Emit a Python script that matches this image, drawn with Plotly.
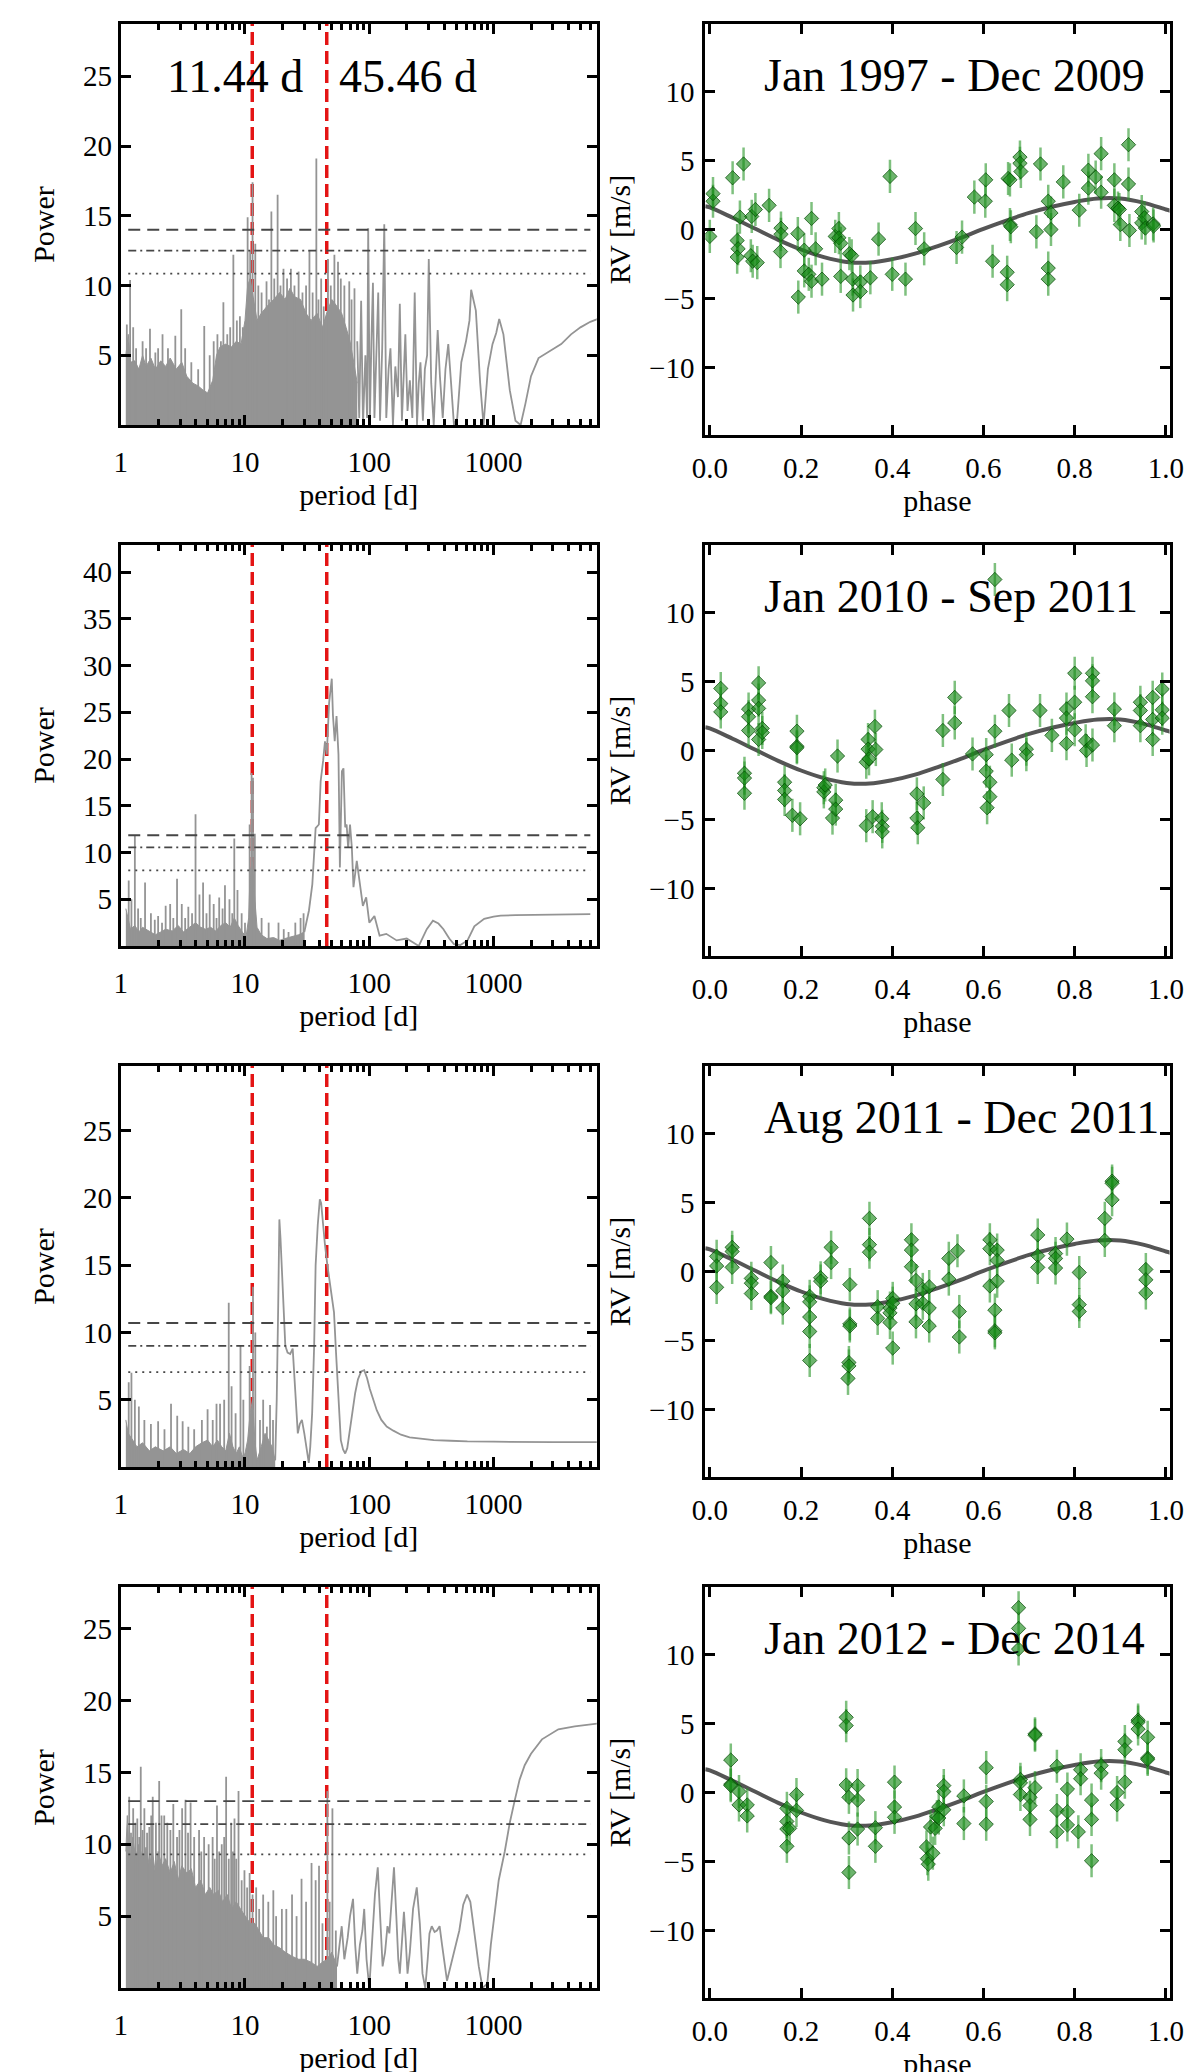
import plotly.graph_objects as go

# ---------------- values ----------------

signal_periods = [11.44, 45.46]
signal_labels = ["11.44 d", "45.46 d"]
fap_period = [1.15, 6000]

period_ticks = [1, 10, 100, 1000]
period_minor = [m * 10 ** k for k in range(4) for m in range(2, 10)]
phase_ticks = [0.0, 0.2, 0.4, 0.6, 0.8, 1.0]
rv_ticks = [-10, -5, 0, 5, 10]

titles = ["Jan 1997 - Dec 2009", "Jan 2010 - Sep 2011",
          "Aug 2011 - Dec 2011", "Jan 2012 - Dec 2014"]

# false-alarm levels (dashed, dash-dot, dotted)
fap1 = [14.0, 12.5, 10.85]
fap2 = [11.85, 10.55, 8.1]
fap3 = [10.7, 9.0, 7.05]
fap4 = [13.0, 11.4, 9.3]

# --- periodogram 1 (Jan 1997 - Dec 2009)
pg1_fill_period = [1.10, 1.15, 1.2, 1.3, 1.4, 1.5, 1.6, 1.75, 1.9, 2.1, 2.3, 2.5, 2.8, 3.1, 3.4,
                   3.8, 4.2, 4.6, 5.0, 5.5, 5.9, 6.3, 7.0, 7.8, 8.5, 9.3, 10.0, 10.5, 11.0, 11.7,
                   12.5, 13.5, 15, 17, 19, 21, 23, 25, 28, 31, 34, 38, 42, 46, 50, 55, 60, 65, 70,
                   75, 80]
pg1_fill_power = [5.0, 6.5, 4.5, 4.6, 4.0, 5.0, 4.2, 4.8, 4.0, 4.6, 4.2, 4.8, 4.0, 4.5, 3.5,
                  3.0, 2.8, 2.5, 2.3, 3.2, 5.0, 5.6, 5.8, 5.6, 6.0, 5.8, 7.5, 10.0, 10.5, 9.0,
                  7.5, 8.0, 8.5, 9.0, 9.5, 9.0, 9.8, 9.2, 9.0, 8.0, 7.5, 8.0, 7.0, 8.2, 9.0, 8.5,
                  8.0, 7.0, 6.0, 4.5, 3.0]
pg1_spike_period = [1.12, 1.19, 1.26, 1.33, 1.5, 1.6, 1.72, 1.9, 2.0, 2.17, 2.4, 2.75, 3.07, 3.3,
                    3.7, 4.2, 4.7, 5.2, 5.6, 6.0, 6.4, 6.7, 7.2, 7.6, 8.06, 8.6, 9.1, 9.6, 10.5,
                    11.0, 11.5, 12.1, 12.8, 13.6, 14.9, 15.6, 16.3, 17.2, 18.3, 19.3, 20.4, 21.8,
                    23.4, 25, 27, 29, 31, 33, 35, 37.5, 39, 41, 43, 46.5, 49, 52.4, 56, 59, 63,
                    69, 72, 76]
pg1_spike_power = [7.2, 10.4, 7.0, 5.5, 6.0, 5.5, 6.9, 5.2, 5.5, 6.5, 5.5, 6.4, 8.3, 5.5,
                   4.5, 4.0, 7.1, 5.0, 6.0, 6.5, 6.0, 8.8, 6.5, 7.0, 12.2, 7.5, 7.8, 7.0, 14.9,
                   12.5, 17.4, 13.0, 10.0, 9.5, 10.3, 9.0, 15.3, 10.5, 16.5, 10.0, 11.2, 10.5,
                   11.2, 10.0, 11.0, 9.5, 10.0, 12.5, 9.5, 19.1, 9.0, 10.5, 8.5, 11.9, 10.0, 12.2,
                   11.7, 10.5, 10.0, 10.3, 9.0, 9.8]
pg1_line_period = [80, 83, 86, 89, 93, 96, 98, 101, 104, 107, 110, 114, 118, 122, 127, 132, 137,
                   143, 148, 155, 162, 170, 176, 183, 190, 195, 203, 212, 222, 232, 242, 250, 258,
                   270, 280, 292, 301, 315, 330, 345, 355, 370, 390, 410, 432, 455, 480, 510, 550,
                   600, 640, 660, 700, 720, 780, 830, 900, 980, 1050, 1110, 1200, 1350, 1500,
                   1650, 1800, 2000, 2300, 2600, 3000, 3500, 4200, 5000, 6000, 6900]
pg1_line_power = [6, 0.5, 8.9, 0, 5, 0.5, 14.1, 0, 6, 10.2, 0.5, 5, 9.5, 0.3, 5.5, 14.4, 0.5,
                  4, 5.5, 0, 4.2, 2, 8.7, 0.3, 3.5, 6.5, 1, 3.2, 0.5, 9.5, 0, 3, 4.5,
                  0.3, 4, 5, 11.9, 3, 0, 4.5, 6.8, 3.5, 0.5, 4, 5.8, 3, 0, 0.5, 4.5,
                  6, 7.5, 9.7, 8.5, 8.2, 3, 0, 4, 5.8, 6.6, 7.6, 6.5, 2.5, 0.3,
                  0, 1.5, 3.5, 4.8, 5.1, 5.4, 5.8, 6.5, 7.0, 7.4, 7.6]

# --- periodogram 2 (Jan 2010 - Sep 2011)
pg2_fill_period = [1.10, 1.15, 1.2, 1.3, 1.4, 1.5, 1.7, 1.9, 2.1, 2.3, 2.6, 2.9, 3.2, 3.6, 4.0,
                   4.4, 4.8, 5.3, 5.8, 6.4, 7.0, 7.6, 8.2, 8.8, 9.5, 10.2, 10.7, 11.0, 11.5, 12.0,
                   12.5, 13.5, 15, 17, 19, 21, 24, 27, 30]
pg2_fill_power = [4.0, 3.0, 1.8, 2.2, 1.5, 2.0, 1.6, 1.2, 1.5, 1.8, 1.6, 2.2, 1.5, 2.0, 2.5,
                  2.0, 1.8, 2.0, 1.6, 2.2, 2.5, 2.0, 3.0, 2.2, 1.5, 1.0, 3.0, 8.0, 9.0, 5.0,
                  2.0, 1.2, 0.8, 0.9, 0.6, 0.8, 1.0, 1.2, 1.5]
pg2_spike_period = [1.16, 1.22, 1.30, 1.38, 1.45, 1.57, 1.75, 1.88, 2.0, 2.15, 2.3, 2.5, 2.65,
                    2.84, 3.1, 3.3, 3.5, 3.75, 4.0, 4.3, 4.6, 4.9, 5.2, 5.6, 5.9, 6.2, 6.6, 6.9,
                    7.5, 7.9, 8.2, 8.7, 9.4, 10.0, 10.9, 11.3, 11.6, 12.0, 13.6, 15.5, 18.6,
                    20.5, 22.4, 25.4, 28, 29.6]
pg2_spike_power = [7.0, 5.0, 11.8, 4.0, 3.0, 6.8, 3.5, 2.8, 3.2, 2.5, 4.3, 4.5, 3.0,
                   7.2, 4.5, 3.0, 4.2, 3.5, 14.1, 5.5, 6.8, 3.5, 5.5, 4.5, 3.0, 5.2, 4.0, 6.5,
                   5.0, 3.5, 11.5, 6.0, 3.5, 2.5, 13.0, 18.5, 18.0, 12.0, 3.0, 2.5, 2.5,
                   1.8, 1.5, 2.5, 3.0, 3.5]
pg2_line_period = [30, 32.7, 34.8, 37, 39.3, 40.6, 42.5, 44, 45.5, 47.5, 49.9, 51, 52.7, 54.5,
                   56.5, 58, 60.2, 62, 64, 65.7, 67.6, 70, 72.4, 74.6, 79.3, 83, 88.8, 94.4, 100,
                   110, 121, 137, 166, 200, 250, 290, 325, 360, 395, 440, 480, 540, 617, 700,
                   840, 1000, 1140, 1500, 2500, 4000, 6000]
pg2_line_power = [1.5, 3.8, 6.6, 12.6, 13.0, 17.6, 19.8, 21.9, 20.5, 26.0, 28.6, 24.7, 21.9,
                  24.6, 20.5, 8.4, 18.7, 19.0, 12.7, 13.0, 10.5, 13.0, 10.5, 6.3, 9.1, 7.3, 4.3,
                  5.2, 2.5, 3.2, 1.1, 1.3, 0.6, 0.8, 0.0, 1.8, 2.7, 2.4, 1.8, 0.8, 0.2, 0.1,
                  0.6, 2.1, 2.9, 3.15, 3.25, 3.3, 3.35, 3.4, 3.4]

# --- periodogram 3 (Aug 2011 - Dec 2011)
pg3_fill_period = [1.10, 1.15, 1.25, 1.35, 1.5, 1.7, 1.9, 2.2, 2.5, 2.8, 3.2, 3.6, 4.0, 4.5,
                   5.0, 5.5, 6.0, 6.5, 7.0, 7.5, 8.0, 8.5, 9.0, 9.5, 10.0, 10.5, 11.0, 11.5,
                   12.0, 12.5, 13.5, 14.5, 15.5, 16.5, 17.5]
pg3_fill_power = [3.5, 2.5, 2.0, 1.5, 1.8, 1.2, 1.5, 1.2, 1.5, 1.0, 1.3, 1.0, 1.5, 1.8,
                  2.0, 1.5, 2.0, 1.5, 1.2, 2.5, 1.5, 1.0, 1.5, 0.8, 1.0, 2.0, 4.0, 5.0,
                  2.0, 0.5, 1.5, 2.5, 2.0, 1.5, 0.5]
pg3_spike_period = [1.16, 1.22, 1.3, 1.4, 1.55, 1.75, 2.0, 2.25, 2.54, 2.85, 3.15, 3.5, 3.9,
                    4.5, 5.0, 5.5, 5.9, 6.3, 6.8, 7.4, 7.8, 8.4, 9.2, 9.7, 10.9, 11.6, 12.1,
                    13.2, 14.0, 15.0, 15.9, 16.8]
pg3_spike_power = [6.3, 7.0, 5.0, 4.5, 3.5, 3.2, 3.4, 2.8, 4.7, 3.8, 3.4, 3.0, 2.8,
                   3.5, 4.3, 3.5, 4.7, 4.7, 5.0, 12.2, 6.0, 4.0, 9.0, 5.0, 7.5, 13.4, 10.0,
                   3.5, 5.0, 3.0, 4.6, 3.5]
pg3_line_period = [17.5, 18.0, 18.5, 18.9, 19.3, 19.8, 20.4, 21.1, 22, 23.1, 24.2, 25.3, 26.6,
                   27.6, 28.7, 30, 31.5, 32.6, 33.5, 34.7, 36, 37, 38.5, 40, 41, 41.9, 44, 46,
                   49, 52, 54, 55.6, 57, 59, 61.5, 64, 66.5, 69, 73, 77, 81, 86, 91, 96, 101,
                   107, 115, 125, 138, 156, 180, 211, 260, 330, 450, 616, 1000, 1585, 3000, 6800]
pg3_line_power = [0.5, 5.0, 12.0, 18.4, 17.0, 15.0, 12.0, 9.0, 8.5, 8.4, 8.8, 6.0, 2.5,
                  3.2, 3.5, 2.5, 1.0, 0.3, 1.5, 4.0, 9.0, 15.0, 18.0, 19.9, 19.6, 18.5, 16.5,
                  15.0, 13.0, 11.5, 8.5, 6.0, 4.0, 2.0, 1.3, 1.0, 1.4, 2.5, 4.0, 5.5, 6.5, 7.1,
                  7.2, 6.6, 5.8, 5.0, 4.2, 3.5, 3.0, 2.7, 2.4, 2.2, 2.1, 2.0, 1.95, 1.9, 1.88,
                  1.85, 1.85, 1.85]

# --- periodogram 4 (Jan 2012 - Dec 2014)
pg4_fill_period = [1.10, 1.13, 1.18, 1.25, 1.32, 1.4, 1.5, 1.6, 1.7, 1.8, 1.9, 2.0, 2.15, 2.3,
                   2.5, 2.7, 2.9, 3.1, 3.4, 3.7, 4.0, 4.4, 4.8, 5.2, 5.6, 6.1, 6.6, 7.2, 7.8, 8.5,
                   9.2, 10, 11, 12, 13, 14, 15.5, 17, 19, 21, 24, 27, 30, 34, 38, 42, 46, 50, 55]
pg4_fill_power = [9.5, 12.0, 8.5, 10.5, 9.0, 10.0, 9.0, 9.8, 8.5, 9.5, 8.0, 9.5, 8.5, 9.0,
                  8.0, 8.8, 7.5, 8.5, 8.0, 8.3, 7.0, 7.5, 6.5, 7.0, 6.5, 6.8, 6.0, 6.5, 5.5, 6.0,
                  5.5, 5.0, 4.5, 4.5, 4.0, 3.5, 3.5, 3.0, 2.8, 2.5, 2.2, 2.0, 2.0, 1.8, 1.5, 1.8,
                  2.0, 2.5, 1.5]
pg4_spike_period = [1.17, 1.26, 1.36, 1.45, 1.55, 1.70, 1.81, 2.04, 2.24, 2.51, 2.84, 3.12,
                    3.32, 3.65, 4.27, 4.69, 5.49, 5.95, 6.5, 7.05, 7.74, 8.23, 8.87, 9.9, 10.9,
                    12.3, 14.0, 15.4, 16.9, 19.8, 23.9, 28.5, 34.3, 39.4, 46, 50.5, 53.8,
                    1.21, 1.31, 1.41, 1.5, 1.63, 1.76, 1.92, 2.13, 2.37, 2.65, 2.97, 3.48, 3.9,
                    4.45, 5.1, 5.7, 6.2, 6.8, 7.4, 8.0, 8.5, 9.4, 10.4, 11.5, 13.0, 17.8, 21.5,
                    26, 31, 37, 42, 48]
pg4_spike_power = [13.3, 12.5, 11.8, 15.4, 12.5, 11.2, 13.3, 14.4, 12.0, 11.0, 10.5, 12.5,
                   13.1, 12.9, 11.0, 10.5, 10.5, 12.7, 10.0, 14.7, 11.5, 11.8, 13.7, 8.2, 8.0,
                   7.0, 6.5, 6.0, 6.8, 5.5, 6.5, 7.6, 8.7, 8.5, 13.7, 12.5, 4.0,
                   10.8, 11.5, 10.5, 11.0, 10.8, 12.0, 11.5, 12.0, 11.5, 12.8, 11.0, 10.8, 10.5,
                   9.5, 10.0, 9.0, 9.5, 10.5, 9.0, 9.5, 9.0, 7.5, 7.0, 6.5, 5.5, 5.0, 5.5,
                   5.0, 6.0, 7.5, 4.5, 6.0]
pg4_line_period = [55, 57, 60, 63, 67, 70, 74, 77, 80, 84, 88, 91, 95, 100, 105, 111, 117, 122,
                   128, 134, 140, 145, 152, 158, 165, 171, 176, 183, 190, 196, 203, 212, 225,
                   241, 255, 268, 282, 295, 305, 318, 335, 350, 368, 385, 405, 422, 450, 490,
                   530, 570, 612, 650, 700, 760, 815, 890, 950, 1030, 1100, 1230, 1350, 1475,
                   1620, 1780, 2000, 2450, 3320, 4500, 6800]
pg4_line_power = [1.5, 2.5, 4.3, 2.0, 3.5, 5.0, 6.2, 3.0, 1.0, 3.0, 4.0, 5.5, 2.0, 0.0, 3.5,
                  6.5, 8.4, 5.0, 1.5, 2.5, 4.3, 3.8, 6.5, 8.4, 5.0, 2.0, 1.0, 3.0, 5.3, 3.5,
                  1.0, 2.5, 5.5, 7.0, 4.5, 1.0, 0.0, 2.0, 3.8, 4.3, 3.9, 4.0, 4.3, 3.0, 1.5,
                  0.5, 1.5, 2.8, 4.0, 5.8, 6.5, 6.0, 4.0, 1.5, 0.0, 0.3, 3.0, 5.5, 7.5, 9.5,
                  11.5, 13.0, 14.5, 15.5, 16.3, 17.3, 18.0, 18.2, 18.4]

# --- Keplerian model curve (same in every RV panel)
model_phase = [-0.01, 0.0, 0.05, 0.1, 0.15, 0.2, 0.25, 0.3, 0.35, 0.4, 0.45, 0.5, 0.55, 0.6,
               0.65, 0.7, 0.75, 0.8, 0.85, 0.9, 0.95, 1.0, 1.01]
model_rv = [1.68, 1.6, 0.85, 0.05, -0.75, -1.45, -2.0, -2.35, -2.4, -2.15, -1.75, -1.2, -0.6,
            0.05, 0.65, 1.2, 1.65, 2.0, 2.25, 2.25, 1.95, 1.45, 1.36]

# --- phased RV points
rv1_phase = [0.0, 0.007, 0.007, 0.05, 0.074, 0.06, 0.062, 0.06, 0.066, 0.092, 0.09, 0.094, 0.10,
             0.104, 0.13, 0.156, 0.156, 0.155, 0.193, 0.194, 0.207, 0.207, 0.217, 0.223, 0.223,
             0.232, 0.246, 0.275, 0.283, 0.283, 0.287, 0.287, 0.306, 0.311, 0.313, 0.314, 0.33,
             0.33, 0.352, 0.37, 0.395, 0.40, 0.429, 0.451, 0.47, 0.541, 0.553, 0.58, 0.604,
             0.605, 0.62, 0.652, 0.652, 0.654, 0.658, 0.658, 0.66, 0.68, 0.68, 0.682, 0.716,
             0.725, 0.742, 0.742, 0.742, 0.748, 0.748, 0.775, 0.81, 0.83, 0.83, 0.846, 0.858,
             0.858, 0.887, 0.887, 0.895, 0.898, 0.90, 0.918, 0.918, 0.92, 0.947, 0.947, 0.953,
             0.955, 0.972, 0.973]
rv1_value = [-0.5, 2.05, 2.6, 3.75, 4.75, -0.8, -1.4, -2.0, 0.9, 0.95, -1.9, -2.3, 1.45,
             -2.4, 1.75, 0.1, -0.35, -1.6, -0.3, -4.9, -1.5, -3.0, -3.25, 0.8, -3.75,
             -1.4, -3.6, -0.5, 0.07, -0.6, -1.0, -3.4, -1.75, -1.9, -3.6, -4.75, -3.8,
             -4.5, -3.5, -0.7, 3.85, -3.25, -3.6, 0.07, -1.4, -1.3, -0.55, 2.35, 2.05,
             3.6, -2.3, -3.1, -4.0, 3.7, 3.6, 0.36, 0.2, 5.25, 4.8, 4.2, -0.17,
             4.75, 2.05, -2.8, -3.6, 1.2, 0.0, 3.45, 1.4, 4.3, 3.0, 3.8, 5.5,
             2.7, 3.6, 1.75, 1.55, 1.45, 0.36, 6.15, 3.3, -0.07, 1.3, 0.48, 0.85,
             0.1, 0.4, 0.25]
rv1_err = 1.2

rv2_phase = [0.024, 0.024, 0.024, 0.076, 0.076, 0.076, 0.085, 0.085, 0.085, 0.107, 0.107, 0.107,
             0.107, 0.115, 0.115, 0.164, 0.164, 0.164, 0.181, 0.191, 0.191, 0.191, 0.198, 0.25,
             0.25, 0.253, 0.269, 0.276, 0.276, 0.28, 0.343, 0.343, 0.347, 0.347, 0.349, 0.357,
             0.362, 0.364, 0.377, 0.378, 0.378, 0.454, 0.454, 0.456, 0.469, 0.511, 0.511, 0.537,
             0.537, 0.576, 0.606, 0.606, 0.608, 0.614, 0.614, 0.625, 0.625, 0.656, 0.662, 0.694,
             0.694, 0.724, 0.75, 0.782, 0.782, 0.782, 0.80, 0.80, 0.80, 0.824, 0.826, 0.839,
             0.839, 0.839, 0.839, 0.887, 0.887, 0.944, 0.944, 0.944, 0.971, 0.971, 0.971, 0.992,
             0.992, 0.992]
rv2_value = [4.5, 3.4, 2.8, -1.65, -2.0, -3.1, 3.0, 2.45, 1.45, 4.9, 3.65, 3.05,
             0.8, 1.6, 1.3, -2.3, -2.9, -3.55, -4.7, 1.4, 0.3, 0.2, -4.95, -2.7,
             -3.0, -2.5, -4.9, -3.6, -4.25, -0.4, -0.85, -5.45, 0.8, 0.1, -0.6, -4.8,
             1.75, 0.07, -4.95, -5.5, -5.9, -3.15, -4.9, -5.6, -3.8, 1.45, -2.1, 3.85,
             2.0, -0.25, -0.3, -1.5, -4.15, -2.3, -3.35, 1.4, 12.4, 2.9, -0.7, 0.1,
             -0.3, 2.9, 1.1, 3.0, 2.35, 0.5, 5.6, 3.5, 1.5, 0.7, 0.0, 5.6,
             5.05, 3.9, 0.4, 3.0, 1.8, 3.5, 2.9, 1.8, 3.85, 2.25, 0.8, 4.45,
             2.95, 2.35]
rv2_err = 1.2

rv3_phase = [0.015, 0.015, 0.015, 0.049, 0.049, 0.049, 0.091, 0.091, 0.091, 0.134, 0.134, 0.134,
             0.16, 0.16, 0.16, 0.219, 0.219, 0.219, 0.219, 0.219, 0.243, 0.243, 0.266, 0.266,
             0.307, 0.307, 0.307, 0.305, 0.305, 0.303, 0.35, 0.35, 0.35, 0.368, 0.368, 0.395,
             0.395, 0.395, 0.401, 0.401, 0.401, 0.442, 0.442, 0.442, 0.452, 0.452, 0.452, 0.467,
             0.467, 0.481, 0.481, 0.481, 0.524, 0.524, 0.543, 0.547, 0.547, 0.614, 0.614, 0.614,
             0.63, 0.63, 0.63, 0.625, 0.625, 0.625, 0.719, 0.719, 0.719, 0.758, 0.758, 0.758,
             0.783, 0.81, 0.81, 0.81, 0.866, 0.866, 0.882, 0.882, 0.882, 0.956, 0.956, 0.956]
rv3_value = [1.1, 0.4, -1.15, 1.75, 1.45, 0.3, -0.5, -0.85, -1.6, 0.65, -1.8, -1.9,
             -0.7, -1.4, -2.65, -1.8, -2.2, -3.3, -4.35, -6.45, -0.45, -0.7, 1.75, 0.65,
             -0.95, -3.8, -3.95, -6.6, -6.85, -7.75, 3.85, 1.95, 1.4, -2.55, -3.4, -2.65,
             -3.0, -3.7, -1.95, -2.3, -5.55, 2.3, 1.55, 0.35, -0.65, -2.35, -3.65, -1.3,
             -2.3, -1.1, -2.65, -3.95, 0.95, -0.55, 1.5, -2.9, -4.75, 2.3, 1.65, -1.05,
             1.55, 0.8, -0.7, -2.8, -4.3, -4.45, 2.65, 1.15, 0.3, 1.3, 0.95, 0.25,
             2.35, -0.07, -2.4, -2.9, 3.85, 2.25, 6.55, 6.4, 5.2, 0.15, -0.6, -1.55]
rv3_err = 1.2

rv4_phase = [0.046, 0.046, 0.046, 0.064, 0.064, 0.082, 0.082, 0.169, 0.169, 0.169, 0.169, 0.175,
             0.19, 0.19, 0.299, 0.299, 0.299, 0.305, 0.305, 0.305, 0.324, 0.324, 0.324, 0.363,
             0.363, 0.405, 0.405, 0.405, 0.475, 0.477, 0.479, 0.484, 0.489, 0.494, 0.498, 0.502,
             0.502, 0.513, 0.513, 0.513, 0.557, 0.557, 0.606, 0.606, 0.606, 0.677, 0.677, 0.677,
             0.681, 0.681, 0.681, 0.702, 0.702, 0.702, 0.713, 0.713, 0.713, 0.761, 0.761, 0.761,
             0.784, 0.784, 0.784, 0.808, 0.813, 0.813, 0.837, 0.837, 0.837, 0.858, 0.858, 0.893,
             0.893, 0.91, 0.91, 0.91, 0.939, 0.939, 0.939, 0.96, 0.96, 0.96]
rv4_value = [2.35, 0.6, 0.5, 0.07, -0.9, -0.9, -1.7, -1.15, -2.1, -2.65, -3.9, -2.6,
             -0.15, -1.3, 5.45, 4.85, 0.55, -0.35, -3.3, -5.8, 0.5, -0.55, -2.65, -2.55,
             -3.9, 0.75, -1.05, -1.8, -3.95, -4.8, -5.2, -2.5, -4.4, -2.6, -1.75, -1.05,
             -1.85, 0.5, 0.07, -1.25, -0.25, -2.25, 1.8, -0.65, -2.3, 13.4, 11.9, 10.4,
             0.95, 0.7, -0.15, -0.35, -0.95, -1.95, 4.25, 4.15, 0.35, 1.9, -1.3, -2.85,
             0.25, -1.4, -2.35, -2.85, 1.65, 1.0, -0.55, -1.95, -4.95, 1.95, 1.4, 0.0,
             -0.9, 3.7, 3.1, 0.75, 5.25, 5.1, 4.6, 4.0, 2.5, 2.4]
rv4_err = 1.2

# ---------------- styling / layout ----------------

W, H = 1200, 2072
FONT = "Liberation Serif, Times New Roman, serif"
GRAY = "rgb(148,148,148)"
RED = "rgb(228,20,20)"
FAP_COLOR = "rgb(70,70,70)"
FAP_DASH = ["12px,7px", "8px,4px,2px,4px", "2px,5px"]

panels = [
    dict(fill=(pg1_fill_period, pg1_fill_power), spike=(pg1_spike_period, pg1_spike_power),
         line=(pg1_line_period, pg1_line_power), fap=fap1, ymax=28.75,
         yticks=[5, 10, 15, 20, 25], rv=(rv1_phase, rv1_value, rv1_err)),
    dict(fill=(pg2_fill_period, pg2_fill_power), spike=(pg2_spike_period, pg2_spike_power),
         line=(pg2_line_period, pg2_line_power), fap=fap2, ymax=42.9,
         yticks=[5, 10, 15, 20, 25, 30, 35, 40], rv=(rv2_phase, rv2_value, rv2_err)),
    dict(fill=(pg3_fill_period, pg3_fill_power), spike=(pg3_spike_period, pg3_spike_power),
         line=(pg3_line_period, pg3_line_power), fap=fap3, ymax=29.8,
         yticks=[5, 10, 15, 20, 25], rv=(rv3_phase, rv3_value, rv3_err)),
    dict(fill=(pg4_fill_period, pg4_fill_power), spike=(pg4_spike_period, pg4_spike_power),
         line=(pg4_line_period, pg4_line_power), fap=fap4, ymax=27.9,
         yticks=[5, 10, 15, 20, 25], rv=(rv4_phase, rv4_value, rv4_err)),
]

axis_common = dict(
    showline=True, linecolor="black", linewidth=3, mirror="ticks",
    ticks="inside", ticklen=10, tickwidth=3, tickcolor="black",
    showgrid=False, zeroline=False,
    tickfont=dict(family=FONT, size=29, color="black"),
)
title_font = dict(family=FONT, size=30, color="black")


def sfx(i):
    return "" if i == 1 else str(i)


fig = go.Figure()
layout = dict(width=W, height=H, margin=dict(l=0, r=0, t=0, b=0),
              paper_bgcolor="white", plot_bgcolor="white", showlegend=False)
annotations = []

for r, pan in enumerate(panels):
    li, ri = 2 * r + 1, 2 * r + 2
    xl, yl = "x" + sfx(li), "y" + sfx(li)
    xr, yr = "x" + sfx(ri), "y" + sfx(ri)
    top = 16 + 521 * r

    # ---- periodogram ----
    for p in signal_periods:
        fig.add_trace(go.Scatter(x=[p, p], y=[0, pan["ymax"]], mode="lines", xaxis=xl, yaxis=yl,
                                 line=dict(color=RED, width=3.5, dash="13px,6px"),
                                 hoverinfo="skip"))
    fp, fv = pan["fill"]
    fig.add_trace(go.Scatter(x=fp, y=fv, mode="lines", xaxis=xl, yaxis=yl, fill="tozeroy",
                             fillcolor=GRAY, line=dict(color=GRAY, width=1)))
    sx, sy = [], []
    for p, v in zip(*pan["spike"]):
        sx += [p, p, None]
        sy += [0, v, None]
    fig.add_trace(go.Scatter(x=sx, y=sy, mode="lines", xaxis=xl, yaxis=yl,
                             line=dict(color=GRAY, width=1.8)))
    lp, lv = pan["line"]
    fig.add_trace(go.Scatter(x=lp, y=lv, mode="lines", xaxis=xl, yaxis=yl,
                             line=dict(color=GRAY, width=1.8)))
    for lvl, dash in zip(pan["fap"], FAP_DASH):
        fig.add_trace(go.Scatter(x=fap_period, y=[lvl, lvl], mode="lines", xaxis=xl, yaxis=yl,
                                 line=dict(color=FAP_COLOR, width=1.8, dash=dash)))

    layout["xaxis" + sfx(li)] = dict(
        axis_common, type="log", range=[0, 3.83], domain=[102 / W, 589 / W], anchor=yl,
        tickvals=period_ticks, ticktext=[str(t) for t in period_ticks], ticklabelstandoff=9,
        minor=dict(ticks="inside", ticklen=6, tickwidth=3, tickcolor="black",
                   tickvals=period_minor, showgrid=False),
        title=dict(text="period [d]", font=title_font, standoff=4),
    )
    layout["yaxis" + sfx(li)] = dict(
        axis_common, range=[0, pan["ymax"]], domain=[1 - (top + 401) / H, 1 - top / H],
        anchor=xl, tickvals=pan["yticks"], ticklabelstandoff=0,
        title=dict(text="Power", font=title_font, standoff=20),
    )

    # ---- phased RV ----
    fig.add_trace(go.Scatter(x=model_phase, y=model_rv, mode="lines", xaxis=xr, yaxis=yr,
                             line=dict(color="rgb(85,85,85)", width=4, shape="spline")))
    ph, val, err = pan["rv"]
    fig.add_trace(go.Scatter(
        x=ph, y=val, mode="markers", xaxis=xr, yaxis=yr,
        marker=dict(symbol="diamond", size=11, color="rgba(20,135,20,0.62)",
                    line=dict(color="rgba(0,70,0,0.7)", width=1)),
        error_y=dict(type="constant", value=err, color="rgba(40,150,40,0.6)",
                     thickness=2.5, width=0),
    ))
    layout["xaxis" + sfx(ri)] = dict(
        axis_common, range=[-0.01, 1.008], domain=[700 / W, 1175 / W], anchor=yr,
        tickvals=phase_ticks, ticktext=["%.1f" % t for t in phase_ticks], ticklabelstandoff=5,
        title=dict(text="phase", font=title_font, standoff=0),
    )
    layout["yaxis" + sfx(ri)] = dict(
        axis_common, range=[-14.9, 14.9], domain=[1 - (top + 411) / H, 1 - top / H],
        anchor=xr, tickvals=rv_ticks, ticktext=[str(t).replace("-", "\u2212") for t in rv_ticks],
        ticklabelstandoff=2,
        title=dict(text="RV [m/s]", font=title_font, standoff=10),
    )
    annotations.append(dict(text=titles[r], xref=xr + " domain", yref=yr + " domain",
                            x=0.122, y=0.874, xanchor="left", yanchor="middle", showarrow=False,
                            font=dict(family=FONT, size=46, color="black")))

for lab, xf in zip(signal_labels, [0.094, 0.454]):
    annotations.append(dict(text=lab, xref="x domain", yref="y domain", x=xf, y=0.87,
                            xanchor="left", yanchor="middle", showarrow=False,
                            font=dict(family=FONT, size=46, color="black")))

layout["annotations"] = annotations
fig.update_layout(**layout)
fig.write_html("out.html")
